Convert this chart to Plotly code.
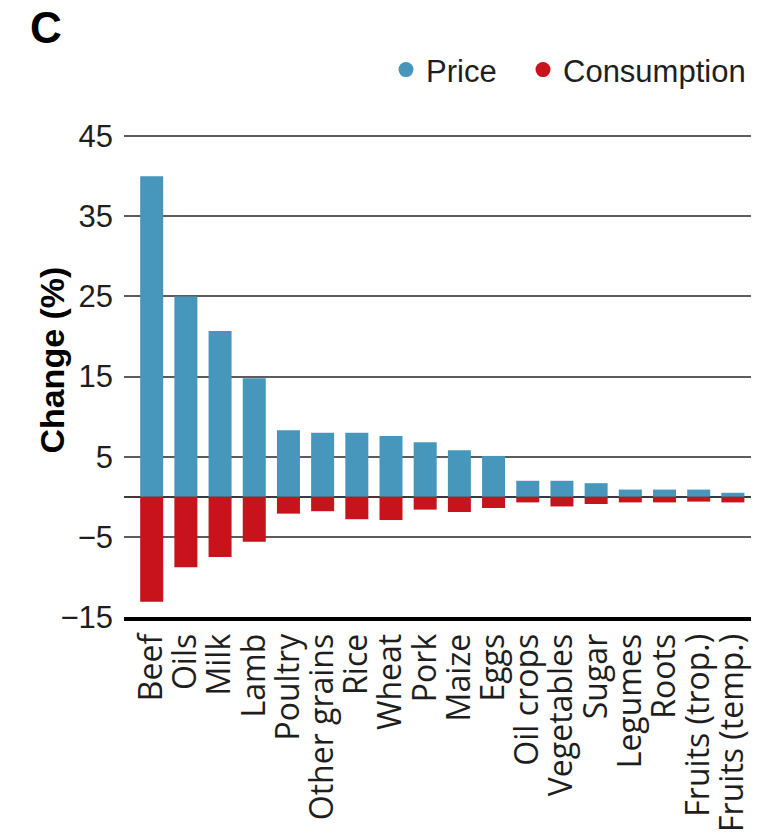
import plotly.graph_objects as go

# Food groups, ordered by price change
categories = ["Beef", "Oils", "Milk", "Lamb", "Poultry", "Other grains", "Rice",
              "Wheat", "Pork", "Maize", "Eggs", "Oil crops", "Vegetables", "Sugar",
              "Legumes", "Roots", "Fruits (trop.)", "Fruits (temp.)"]

# Change (%) per food group
price = [40.0, 25.0, 20.7, 14.8, 8.3, 8.0, 8.0, 7.6, 6.8, 5.8, 5.1,
         2.0, 2.0, 1.7, 0.9, 0.9, 0.9, 0.5]
consumption = [-13.1, -8.8, -7.5, -5.6, -2.1, -1.8, -2.8, -2.9, -1.6, -1.9, -1.4,
               -0.7, -1.2, -0.9, -0.7, -0.7, -0.6, -0.7]

y_ticks = [-15, -5, 5, 15, 25, 35, 45]

BLUE = "#4797BC"
RED = "#C8121C"
TEXT = "#1e1e1e"

fig = go.Figure()
fig.add_trace(go.Bar(x=categories, y=price, marker=dict(color=BLUE, line_width=0),
                     name="Price", showlegend=False))
fig.add_trace(go.Bar(x=categories, y=consumption, marker=dict(color=RED, line_width=0),
                     name="Consumption", showlegend=False))

# Round legend keys; the first entry gets a wider slot to space the pair apart
fig.add_trace(go.Scatter(x=[None], y=[None], mode="markers", name="Price",
                         legendwidth=92,
                         marker=dict(symbol="circle", size=15, color=BLUE)))
fig.add_trace(go.Scatter(x=[None], y=[None], mode="markers", name="Consumption",
                         marker=dict(symbol="circle", size=15, color=RED)))

fig.update_layout(
    width=769, height=836,
    margin=dict(l=124, r=18, t=135, b=219, autoexpand=False),
    paper_bgcolor="white", plot_bgcolor="white",
    barmode="relative", bargap=0.327,
    font=dict(family="Liberation Sans, Arial, sans-serif", color=TEXT),
    legend=dict(orientation="h", x=1.0, xanchor="right", y=1.135, yanchor="middle",
                font=dict(family="Liberation Sans, Arial, sans-serif", size=31, color=TEXT),
                itemwidth=30, entrywidthmode="pixels", bgcolor="rgba(0,0,0,0)"),
    xaxis=dict(range=[-0.81, 17.53], tickmode="array", tickvals=categories,
               ticktext=categories, tickangle=-90, showgrid=False, zeroline=False,
               showline=True, linecolor="black", linewidth=4, ticks="", automargin=False,
               tickfont=dict(family="Open Sans, sans-serif", size=32, color=TEXT)),
    yaxis=dict(range=[-15, 45.15], tickvals=y_ticks, showgrid=True, gridcolor="#5c5c5c",
               gridwidth=2, zeroline=True, zerolinecolor="#3a3a3a", zerolinewidth=2,
               ticks="", ticklabelstandoff=10, automargin=False,
               tickfont=dict(family="Liberation Sans Narrow, Liberation Sans, sans-serif",
                             size=31, color=TEXT)),
    annotations=[
        dict(text="<b>C</b>", xref="paper", yref="paper", x=-0.153, y=1.278,
             xanchor="left", yanchor="top", showarrow=False,
             font=dict(family="Liberation Sans, Arial, sans-serif", size=44, color="black")),
        dict(text="<b>Change (%)</b>", xref="paper", yref="paper", x=-0.114, y=0.533,
             xanchor="center", yanchor="middle", textangle=-90, showarrow=False,
             font=dict(family="Liberation Sans, Arial, sans-serif", size=34, color="black")),
    ],
)

fig.write_html("out.html")
